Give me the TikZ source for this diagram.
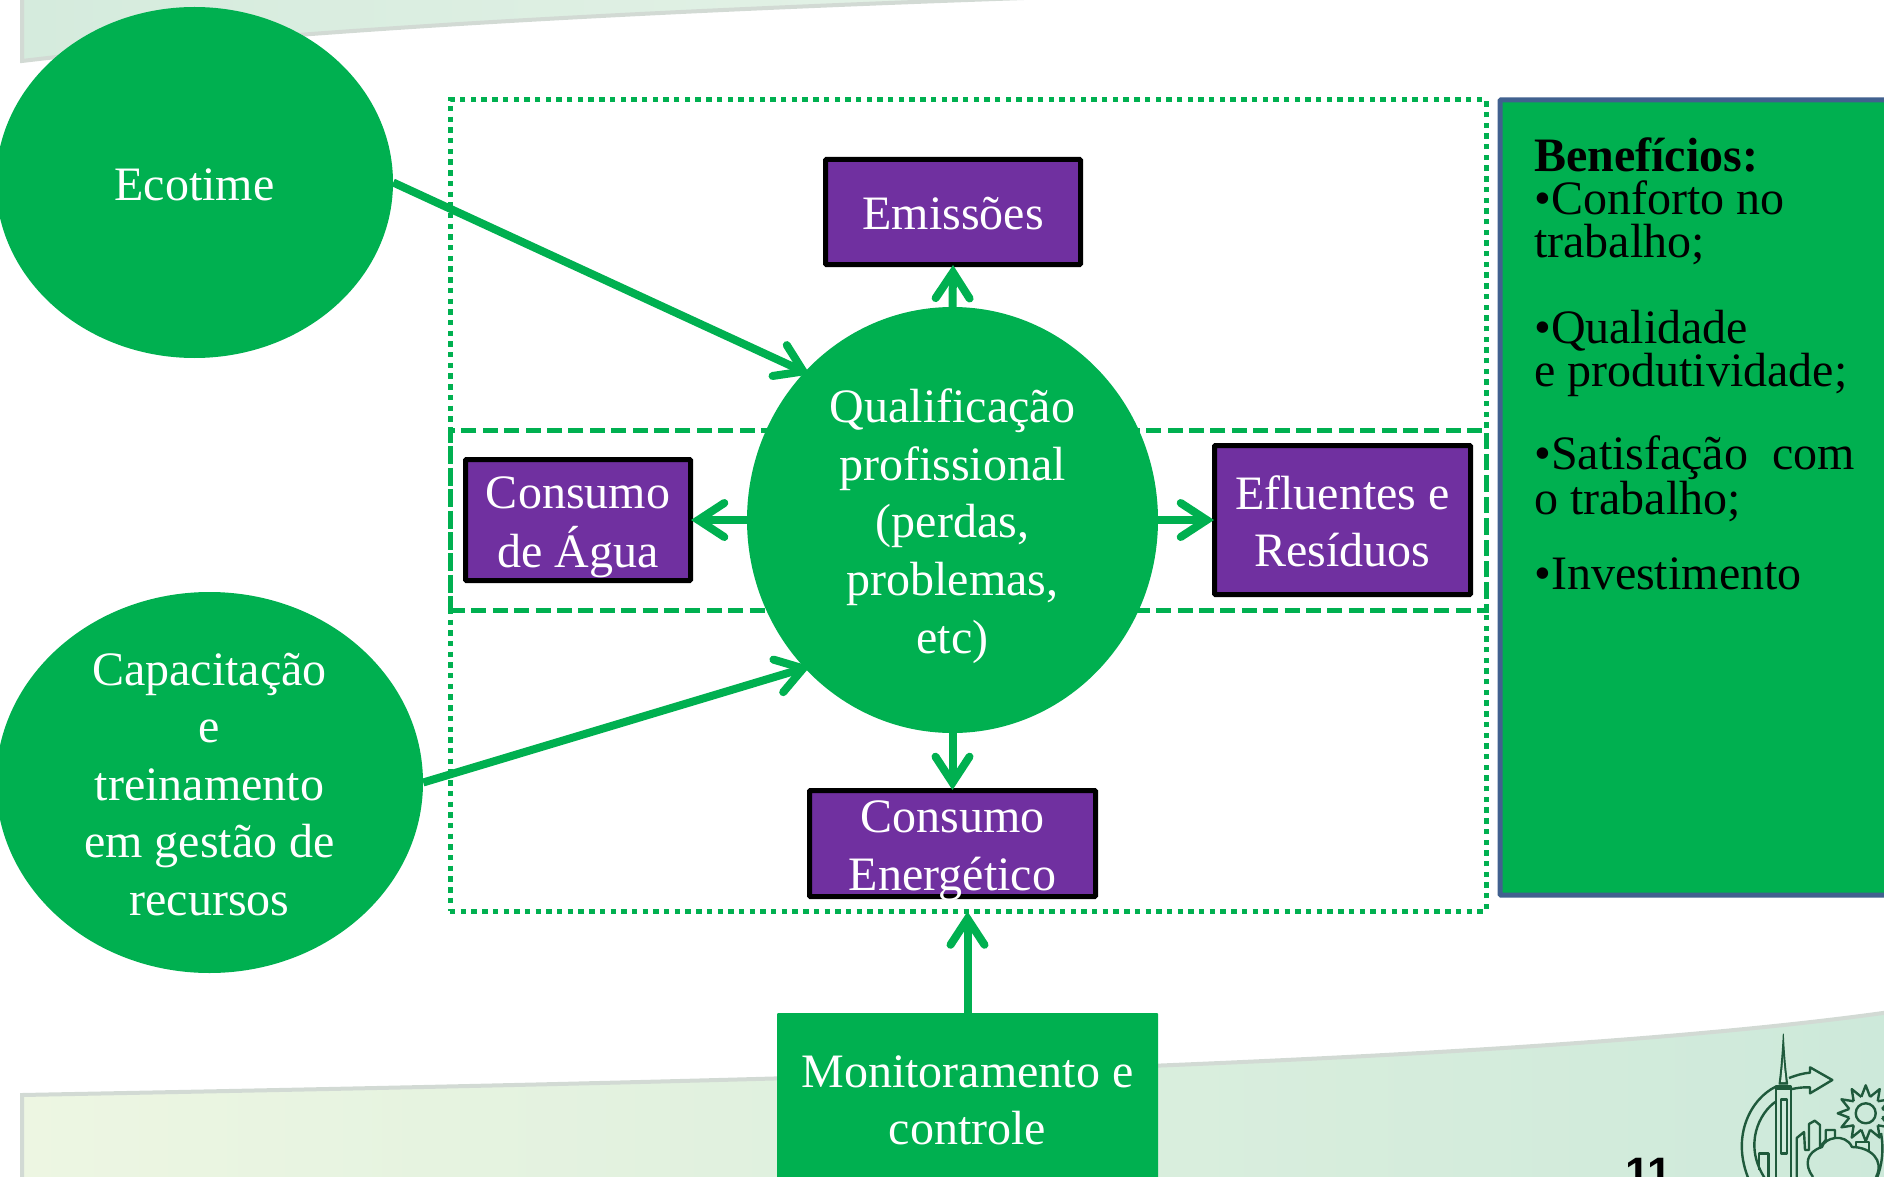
\documentclass[tikz,border=0pt]{standalone}
\usepackage{fontspec}
\setmainfont{Liberation Serif}
\newfontfamily\numfont{Liberation Sans}
\usetikzlibrary{shapes.geometric,arrows.meta}
\definecolor{ggreen}{HTML}{00B050}
\definecolor{gpurple}{HTML}{7030A0}
\definecolor{gborder}{HTML}{41618F}
\definecolor{logoc}{HTML}{1F5A3C}
\definecolor{bandedge}{HTML}{D2DAD4}
\definecolor{toptint}{HTML}{D5EBDD}
\definecolor{topfade}{HTML}{E6F3E8}
\definecolor{botleft}{HTML}{EDF6E2}
\definecolor{botright}{HTML}{CDE9DA}
\newcommand{\lowtext}[1]{\raisebox{-12.5pt}[0pt][0pt]{\begin{tabular}{@{}c@{}}#1\end{tabular}}}
\tikzset{
  body/.style={font=\fontsize{48}{57.6}\selectfont,text=white,align=center,inner sep=0pt},
  blob/.style={body,ellipse,fill=ggreen},
  purplebox/.style={body,rectangle,draw=black,fill=gpurple,line width=5pt,rounded corners=1pt},
  flow/.style={draw=ggreen,line width=8pt,shorten >=-2pt,-{Straight Barb[length=26pt,width=34pt,line cap=round,line width=8pt]}},
  dotbox/.style={draw=ggreen,line width=5pt,dash pattern=on 5.4pt off 5.3pt,rectangle,inner sep=0pt},
  dashbox/.style={draw=ggreen,line width=5pt,dash pattern=on 15pt off 6.4pt,rectangle,inner sep=0pt},
  logoline/.style={draw=logoc,line width=2.4pt,line join=round},
  bandline/.style={draw=bandedge,line width=4pt}
}
\begin{document}
\begin{tikzpicture}[x=1pt,y=-1pt]
\useasboundingbox (0,0) rectangle (1884,1177);
\clip (0,0) rectangle (1884,1177);
% background bands
\path[left color=toptint,right color=topfade] (22,-6) -- (22,61) .. controls (300,28) and (700,8) .. (1145,-6) -- cycle;
\draw[bandline] (22,-6) -- (22,61) .. controls (300,28) and (700,8) .. (1145,-6);
\path[left color=botleft,right color=botright] (22,1190) -- (22,1095) .. controls (700,1082) and (1500,1067) .. (1890,1012) -- (1890,1190) -- cycle;
\draw[bandline] (22,1190) -- (22,1095) .. controls (700,1082) and (1500,1067) .. (1890,1012);
% page number
\node[font=\numfont\bfseries\fontsize{44}{44}\selectfont,inner sep=0pt,anchor=base] (pg) at (1649,1188) {11};
% logo
\path[logoline,fill=logoc,line width=1pt] (1779,1084) .. controls (1781,1070) and (1782.5,1050) .. (1783.3,1034) .. controls (1784,1050) and (1785.5,1070) .. (1787.7,1084) -- cycle;
\path[fill=toptint] (1781,1082) .. controls (1782,1072) and (1783,1064) .. (1783.3,1056) .. controls (1783.6,1064) and (1784.6,1072) .. (1785.7,1082) -- cycle;
\path[logoline,fill=logoc] (1776,1086) rectangle (1790.5,1089);
\path[logoline] (1775.7,1089) -- (1775.7,1190) (1790.7,1089) -- (1790.7,1190);
\path[logoline] (1780.7,1099.3) rectangle (1786.7,1153.3);
\path[logoline] (1775.7,1086.7) .. controls (1752,1098) and (1730,1135) .. (1749,1180);
\path[logoline] (1775.7,1101.7) .. controls (1760,1112) and (1742,1145) .. (1766,1180);
\path[logoline] (1759,1170) -- (1759,1153.3) -- (1768.3,1153.3) -- (1768.3,1178);
\path[logoline] (1789,1078) .. controls (1797,1075) and (1804,1073) .. (1810,1072.7) -- (1810,1067.3) -- (1832.3,1080) -- (1810,1093.3) -- (1810,1087.3) .. controls (1803,1087) and (1797,1088) .. (1792,1089);
\path[logoline] (1796.7,1177) -- (1796.7,1138) -- (1804,1132) -- (1805,1150) -- (1809,1150) -- (1809,1124) -- (1814.7,1120.7) -- (1820,1125) -- (1820,1147) -- (1825.7,1140) -- (1825.7,1130) -- (1835,1130) -- (1835,1138);
\path[logoline] (1813,1177) .. controls (1804,1165) and (1806,1152) .. (1822,1147) .. controls (1824,1138) and (1845,1132) .. (1852,1147) .. controls (1870,1147) and (1885,1160) .. (1876,1177);
\path[logoline] (1855.7,1148) -- (1855.7,1141.7) -- (1869,1141.7) -- (1869,1152);
\path[logoline] (1881,1133) .. controls (1884,1150) and (1882,1165) .. (1877,1178);
\path[logoline] (1865.7,1113.3) circle (10);
\foreach \a in {0,30,...,330}{
  \path[logoline] ([shift={(\a-15:17)}]1865.7,1113.3) -- ([shift={(\a:28)}]1865.7,1113.3) -- ([shift={(\a+15:17)}]1865.7,1113.3);
}
% dotted and dashed frames
\node[dotbox,minimum width=1036pt,minimum height=811pt] (dots) at (968,505.5) {};
\node[dashbox,minimum width=1036pt,minimum height=180pt] (dash) at (968,520) {};
% benefits panel
\node[rectangle,draw=gborder,fill=ggreen,line width=5pt,rounded corners=1pt,minimum width=400pt,minimum height=795pt,inner sep=0pt] (ben) at (1700,497.5) {};
\node[font=\fontsize{48}{43.2}\selectfont,text=black,align=left,inner sep=0pt,anchor=north west] (bentext) at (1534,137) {\textbf{Benefícios:}\\
•Conforto no\\
trabalho;\\[42.5pt]
•Qualidade\\
e produtividade;\\[38.6pt]
•Satisfação\ \ com\\
o trabalho;\\[32pt]
•Investimento};
% main shapes
\node[blob,minimum width=397pt,minimum height=351pt] (eco) at (194.5,182.5) {\lowtext{Ecotime}};
\node[blob,minimum width=427pt,minimum height=381pt] (cap) at (209.5,782.5) {\lowtext{Capacitação\\e\\treinamento\\em gestão de\\recursos}};
\node[blob,minimum width=411pt,minimum height=426pt] (qual) at (952.5,520) {\lowtext{Qualificação\\profissional\\(perdas,\\problemas,\\etc)}};
\node[purplebox,minimum width=255pt,minimum height=105pt] (emi) at (953,212) {\lowtext{Emissões}};
\node[purplebox,minimum width=225pt,minimum height=121pt] (agua) at (578,520) {\lowtext{Consumo\\de Água}};
\node[purplebox,minimum width=256pt,minimum height=149pt] (eflu) at (1342.5,520) {\lowtext{Efluentes e\\Resíduos}};
\node[purplebox,minimum width=286pt,minimum height=106pt] (ener) at (952.5,843.5) {\lowtext{Consumo\\Energético}};
\node[body,rectangle,fill=ggreen,rounded corners=1pt,minimum width=381pt,minimum height=170pt] (mon) at (967.5,1098) {\lowtext{Monitoramento e\\controle}};
% connectors
\draw[flow,shorten >=-6pt] (eco.east) -- (qual.135);
\draw[flow,shorten >=-6pt] (cap.east) -- (qual.225);
\draw[flow] (qual.north) -- (emi.south);
\draw[flow] (qual.west) -- (agua.east);
\draw[flow] (qual.east) -- (eflu.west);
\draw[flow] (qual.south) -- (ener.north);
\draw[flow] (mon.north) -- (mon.north |- dots.south);
\end{tikzpicture}
\end{document}
